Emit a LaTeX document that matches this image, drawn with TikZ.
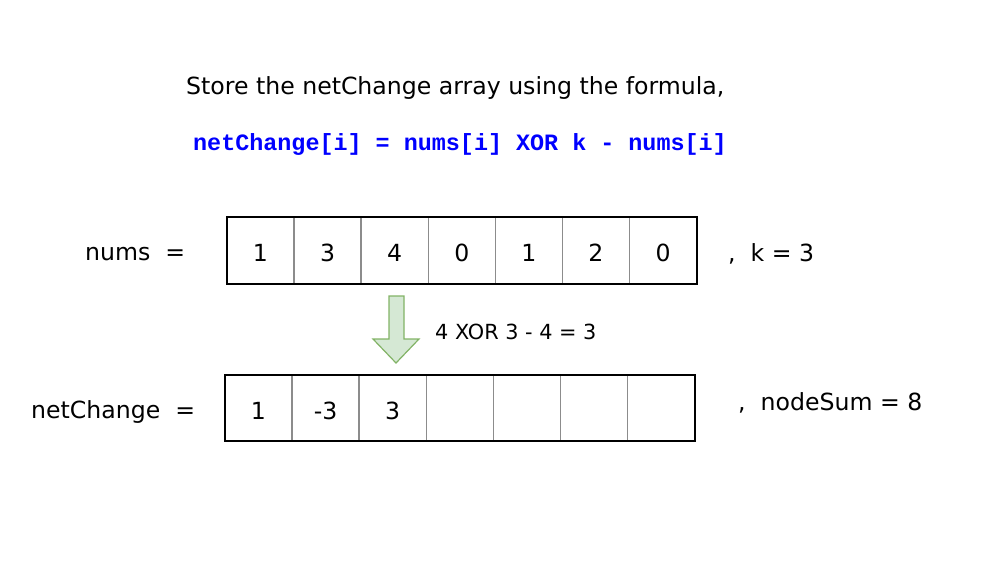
\documentclass[tikz,border=0pt]{standalone}
\usepackage{fontspec}
\setmainfont{DejaVu Sans}
\newfontfamily\codefont{Liberation Mono}
\begin{document}
\begin{tikzpicture}[x=1pt,y=-1pt,
  lbl/.style={inner sep=0pt,font=\fontsize{23.6}{28}\selectfont},
  cellnum/.style={inner sep=0pt,font=\fontsize{23.6}{28}\selectfont},
  divider/.style={draw=black!45,line width=1.5pt},
  border/.style={draw=black,line width=1.3pt}]
\useasboundingbox (0,0) rectangle (1002,567);
\definecolor{arrfill}{HTML}{D5E8D4}
\definecolor{arrline}{HTML}{82B366}
\node[lbl,anchor=west] (title) at (186,88) {Store the netChange array using the formula,};
\node[inner sep=0pt,anchor=west,text=blue,font=\codefont\bfseries\fontsize{23.4}{26}\selectfont] (formula) at (193,145) {netChange[i] = nums[i] XOR k - nums[i]};
% top array
\foreach \v [count=\i from 0] in {1,3,4,0,1,2,0} {
  \node[cellnum] (a\i) at ({227+67.1*\i+33.5},253) {\v};
}
\foreach \i in {1,...,6} \draw[divider] ({227+67.1*\i},217) -- ({227+67.1*\i},284);
\draw[border] (227,217) rectangle (697,284);
% bottom array
\foreach \v [count=\i from 0] in {1,-3,3,{},{},{},{}} {
  \node[cellnum] (b\i) at ({225+67.1*\i+33.5},411) {\v};
}
\foreach \i in {1,...,6} \draw[divider] ({225+67.1*\i},375) -- ({225+67.1*\i},441);
\draw[border] (225,375) rectangle (695,441);
% labels
\node[lbl,anchor=west] (numsl) at (85,254) {nums\ \ =};
\node[lbl,anchor=west] (ncl) at (31,412) {netChange\ \ =};
\node[lbl,anchor=west] (kl) at (728,254) {,\ \ k = 3};
\node[lbl,anchor=west] (nsl) at (738,403) {,\ \ nodeSum = 8};
\node[inner sep=0pt,anchor=west,font=\fontsize{20.8}{24}\selectfont] (calc) at (435,332) {4 XOR 3 - 4 = 3};
% arrow
\draw[draw=arrline,fill=arrfill,line width=1.2pt] (389,296) -- (404,296) -- (404,339) -- (419,339) -- (396,363) -- (373,339) -- (389,339) -- cycle;
\end{tikzpicture}
\end{document}
